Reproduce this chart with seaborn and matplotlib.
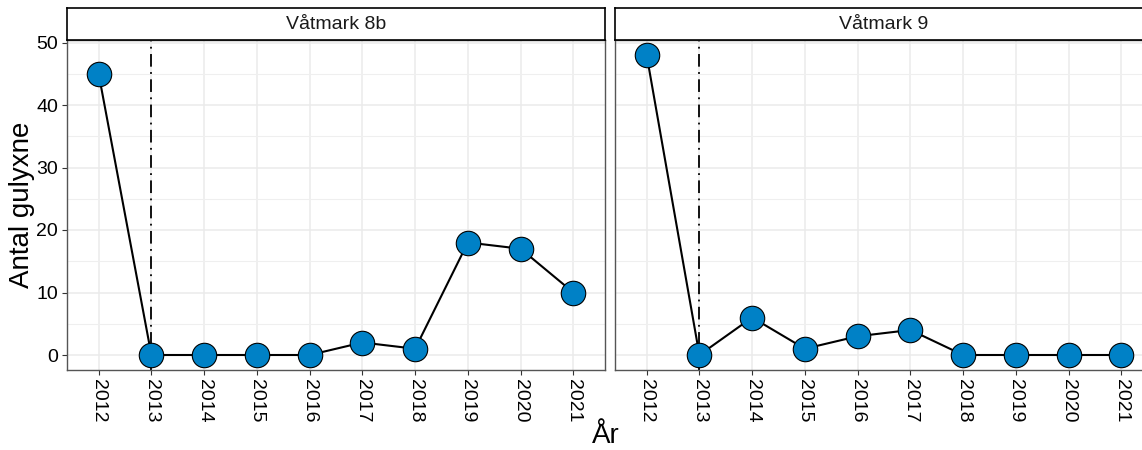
import matplotlib
matplotlib.use("Agg")
import matplotlib.pyplot as plt
import seaborn as sns
import numpy as np
import pandas as pd

years = [2012, 2013, 2014, 2015, 2016, 2017, 2018, 2019, 2020, 2021]
vatmark_8b = [45, 0, 0, 0, 0, 2, 1, 18, 17, 10]
vatmark_9 = [48, 0, 6, 1, 3, 4, 0, 0, 0, 0]
panel_titles = ["Våtmark 8b", "Våtmark 9"]
vline_year = 2013
y_ticks = [0, 10, 20, 30, 40, 50]

sns.set_theme(style="white")
plt.rcParams['font.family'] = ['Liberation Sans', 'DejaVu Sans']

W, H = 1142, 450
fig = plt.figure(figsize=(W / 100, H / 100), dpi=100)

def fx(px):
    return px / W

def fy(py):
    return 1 - py / H

panels = [(67, vatmark_8b), (615, vatmark_9)]
pw = 538
top, bot, strip_top = 40, 370, 8

ymin_d = min(min(vatmark_8b), min(vatmark_9))
ymax_d = max(max(vatmark_8b), max(vatmark_9))
yr = ymax_d - ymin_d
ylim = (ymin_d - 0.05 * yr, ymax_d + 0.05 * yr)

for i, ((left, vals), title) in enumerate(zip(panels, panel_titles)):
    ax = fig.add_axes([fx(left), fy(bot), fx(pw), (bot - top) / H])
    df = pd.DataFrame({"year": years, "count": vals})
    ax.set_xlim(years[0] - 0.6, years[-1] + 0.6)
    ax.set_ylim(*ylim)
    ax.set_yticks(y_ticks)
    ax.set_yticks([t + 5 for t in y_ticks[:-1]], minor=True)
    ax.set_xticks(years)
    ax.grid(True, which="major", color="#EBEBEB", linewidth=1.1)
    ax.grid(True, which="minor", axis="y", color="#EFEFEF", linewidth=0.8)
    ax.set_axisbelow(True)
    ax.axvline(vline_year, color="black", linewidth=1.3,
               linestyle=(0, (7, 3, 1, 3)), zorder=2)
    sns.lineplot(data=df, x="year", y="count", ax=ax, color="black",
                 linewidth=1.5, zorder=3)
    sns.scatterplot(data=df, x="year", y="count", ax=ax, s=310,
                    color="#0081C6", edgecolor="black", linewidth=0.8,
                    zorder=4)
    ax.set_xlabel("")
    ax.set_ylabel("")
    ax.set_xticklabels([str(y) for y in years], rotation=270,
                       fontsize=14, color="black")
    ax.tick_params(axis="both", which="major", length=3.5, width=0.8,
                   color="#333333", pad=3, labelsize=14, labelcolor="black")
    ax.tick_params(axis="both", which="minor", length=0)
    ax.tick_params(axis="x", bottom=True)
    ax.tick_params(axis="y", left=True)
    for lab in ax.get_xticklabels():
        lab.set_ha("center")
        lab.set_va("top")
    if i == 0:
        ax.set_yticklabels([str(t) for t in y_ticks])
    else:
        ax.set_yticklabels([])
        ax.tick_params(axis="y", left=False)
    for sp in ax.spines.values():
        sp.set_color("#555555")
        sp.set_linewidth(1.0)
    sax = fig.add_axes([fx(left), fy(top), fx(pw), (top - strip_top) / H])
    sax.set_xticks([])
    sax.set_yticks([])
    sax.set_facecolor("white")
    for sp in sax.spines.values():
        sp.set_color("black")
        sp.set_linewidth(1.2)
    sax.text(0.5, 0.47, title, transform=sax.transAxes, ha="center",
             va="center", fontsize=14, color="#1A1A1A")

fig.text(fx(22), fy(205), "Antal gulyxne", rotation=90, ha="center",
         va="center", fontsize=20, color="black")
fig.text(fx(606), fy(436), "År", ha="center", va="center", fontsize=20,
         color="black")

fig.savefig("out.png", dpi=100)
